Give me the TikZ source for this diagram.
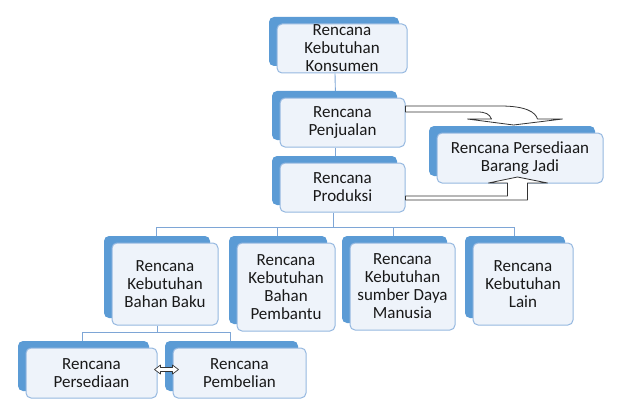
\documentclass[tikz,border=0pt]{standalone}
\usepackage{fontspec}
\setmainfont{Carlito}
\usetikzlibrary{shadows,backgrounds}
\definecolor{backblue}{HTML}{5B9BD5}
\definecolor{boxline}{HTML}{95B8E0}
\definecolor{boxfill}{HTML}{EEF3FA}
\definecolor{connblue}{HTML}{7EA6D6}

\begin{document}
\begin{tikzpicture}[x=1pt,y=-1pt,
  box/.style={draw=boxline,line width=1pt,rounded corners=5pt,fill=boxfill,align=center,inner sep=0pt,
    text=black!90,font=\fontsize{17}{18}\selectfont,
    general shadow={fill=backblue,shadow xshift=-8pt,shadow yshift=7pt}},
  conn/.style={draw=connblue,line width=0.9pt},
  blockarrow/.style={draw=black!80,fill=white,line width=0.8pt,line join=round}]
\useasboundingbox (0,0) rectangle (624,420);
\node[box,minimum width=130,minimum height=49] (konsumen) at (342,48.5) {Rencana\\Kebutuhan\\Konsumen};
\node[box,minimum width=125,minimum height=49] (penjualan) at (342.5,122.5) {Rencana\\Penjualan};
\node[box,minimum width=125,minimum height=49] (produksi) at (342.5,187.5) {Rencana\\Produksi};
\node[box,minimum width=166,minimum height=50] (jadi) at (520,158) {Rencana Persediaan\\Barang Jadi};
\node[box,minimum width=106,minimum height=82] (baku) at (165,284) {Rencana\\Kebutuhan\\Bahan Baku};
\node[box,minimum width=98,minimum height=88] (pembantu) at (286,287) {Rencana\\Kebutuhan\\Bahan\\Pembantu};
\node[box,minimum width=105,minimum height=87] (sdm) at (402.5,286.5) {Rencana\\Kebutuhan\\sumber Daya\\Manusia};
\node[box,minimum width=100,minimum height=82] (lain) at (523,284) {Rencana\\Kebutuhan\\Lain};
\node[box,minimum width=131,minimum height=50] (persediaan) at (91.5,373) {Rencana\\Persediaan};
\node[box,minimum width=133,minimum height=50] (pembelian) at (239.5,373) {Rencana\\Pembelian};
\begin{scope}[on background layer]
\draw[conn] ([xshift=-7pt]konsumen.south) -- ([xshift=-7pt]penjualan.north);
\draw[conn] ([xshift=-7pt]penjualan.south) -- ([xshift=-7pt]produksi.north);
\draw[conn] ([xshift=-9pt]produksi.south) -- ++(0,15) coordinate (bar1);
\foreach \n in {baku,pembantu,sdm,lain} {\draw[conn] (bar1) -| ([xshift=-9pt]\n.north);}
\draw[conn] ([xshift=-8pt]baku.south) -- ++(0,7) coordinate (bar2);
\foreach \n in {persediaan,pembelian} {\draw[conn] (bar2) -| ([xshift=-9pt]\n.north);}
\end{scope}
\begin{scope}[shift={([yshift=16.5pt]penjualan.east)}]
\draw[blockarrow] (0,0) -- (95,0) .. controls (120,0) and (130,6) .. (132,13) -- (157,13) -- (108,19) -- (62,13) -- (86,13) .. controls (84,8) and (80,6) .. (72,6) -- (0,6) -- cycle;
\end{scope}
\begin{scope}[shift={([yshift=-8.5pt]produksi.east)}]
\draw[blockarrow] (0,0) -- (102,0) -- (102,-13) -- (83,-13) -- (112,-19) -- (142,-13) -- (122,-13) -- (122,4) -- (0,4) -- cycle;
\end{scope}
\begin{scope}[shift={([xshift=-3pt,yshift=3.5pt]persediaan.east)}]
\draw[blockarrow,line width=0.7pt] (0,0) -- (6,-4.5) -- (6,-2) -- (18,-2) -- (18,-4.5) -- (24,0) -- (18,4.5) -- (18,2) -- (6,2) -- (6,4.5) -- cycle;
\end{scope}
\end{tikzpicture}
\end{document}
